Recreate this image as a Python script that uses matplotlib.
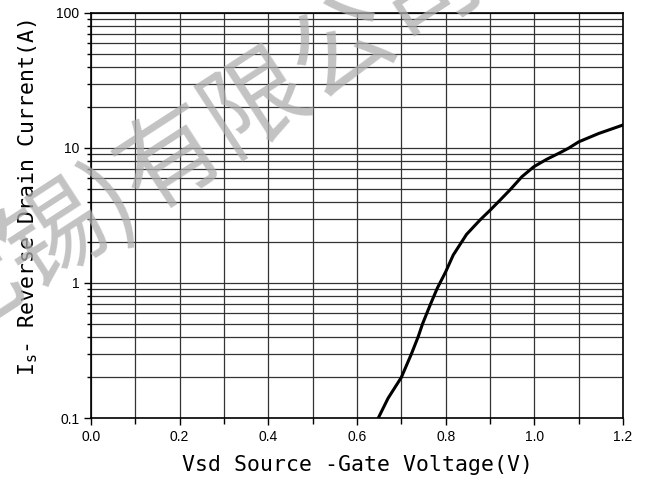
import numpy as np
import matplotlib
matplotlib.use("Agg")
import matplotlib.pyplot as plt
from matplotlib.ticker import LogLocator, MultipleLocator, FixedLocator, NullFormatter

# ---------- data ----------
vsd = [0.648, 0.670, 0.700, 0.723, 0.738, 0.748, 0.766, 0.781, 0.800, 0.817,
       0.847, 0.8775, 0.901, 0.923, 0.945, 0.972, 0.999, 1.028, 1.058, 1.078,
       1.100, 1.145, 1.200]
i_s = [0.1, 0.14, 0.2, 0.3, 0.4, 0.5, 0.7, 0.914, 1.21, 1.61,
       2.29, 2.93, 3.48, 4.12, 4.89, 6.13, 7.27, 8.25, 9.23, 10.0,
       11.1, 12.8, 14.8]

x_ticks = [0.0, 0.2, 0.4, 0.6, 0.8, 1.0, 1.2]
x_labels = ["0.0", "0.2", "0.4", "0.6", "0.8", "1.0", "1.2"]
y_ticks = [0.1, 1, 10, 100]
y_labels = ["0.1", "1", "10", "100"]

mark_left = "无锡)"
mark_right = "有限公司"

# ---------- figure ----------
fig = plt.figure(figsize=(6.46, 4.86), dpi=100)
ax = fig.add_axes([0.1409, 0.1399, 0.8235, 0.8334])

ax.plot(vsd, i_s, color="black", lw=2.2, zorder=3)

ax.set_yscale("log")
ax.set_xlim(0, 1.2)
ax.set_ylim(0.1, 100)

ax.xaxis.set_major_locator(FixedLocator(x_ticks))
ax.set_xticklabels(x_labels)
ax.xaxis.set_minor_locator(MultipleLocator(0.1))
ax.yaxis.set_major_locator(FixedLocator(y_ticks))
ax.set_yticklabels(y_labels)
ax.yaxis.set_minor_locator(LogLocator(base=10, subs=np.arange(2, 10)))
ax.yaxis.set_minor_formatter(NullFormatter())

ax.grid(True, which="both", color="#333333", lw=0.9)
ax.set_axisbelow(True)

ax.tick_params(which="major", direction="out", length=5, width=1, labelsize=10,
               color="black")
ax.tick_params(which="minor", direction="out", length=3, width=1, color="black")
ax.tick_params(axis="x", which="minor", length=4)
for lab in ax.get_xticklabels() + ax.get_yticklabels():
    lab.set_family("Liberation Sans")

for sp in ax.spines.values():
    sp.set_color("black")
    sp.set_linewidth(1.2)

ax.set_xlabel("Vsd Source -Gate Voltage(V)", family="DejaVu Sans Mono",
              fontsize=15.5, labelpad=8)
ax.set_ylabel(r"I$_\mathregular{s}$- Reverse Drain Current(A)",
              family="DejaVu Sans Mono", fontsize=15.5)
ax.yaxis.set_label_coords(-0.095, 0.545)

# ---------- watermark ----------
wm = dict(family=["Noto Sans CJK SC", "DejaVu Sans"], fontsize=74, rotation=33,
          rotation_mode="anchor", va="center", color="#aeaeae", alpha=0.74,
          zorder=10)
fig.text(0.199, 0.612, mark_right, ha="left", **wm)
fig.text(0.199, 0.612, mark_left, ha="right", **wm)

fig.savefig("out.png", dpi=100)
